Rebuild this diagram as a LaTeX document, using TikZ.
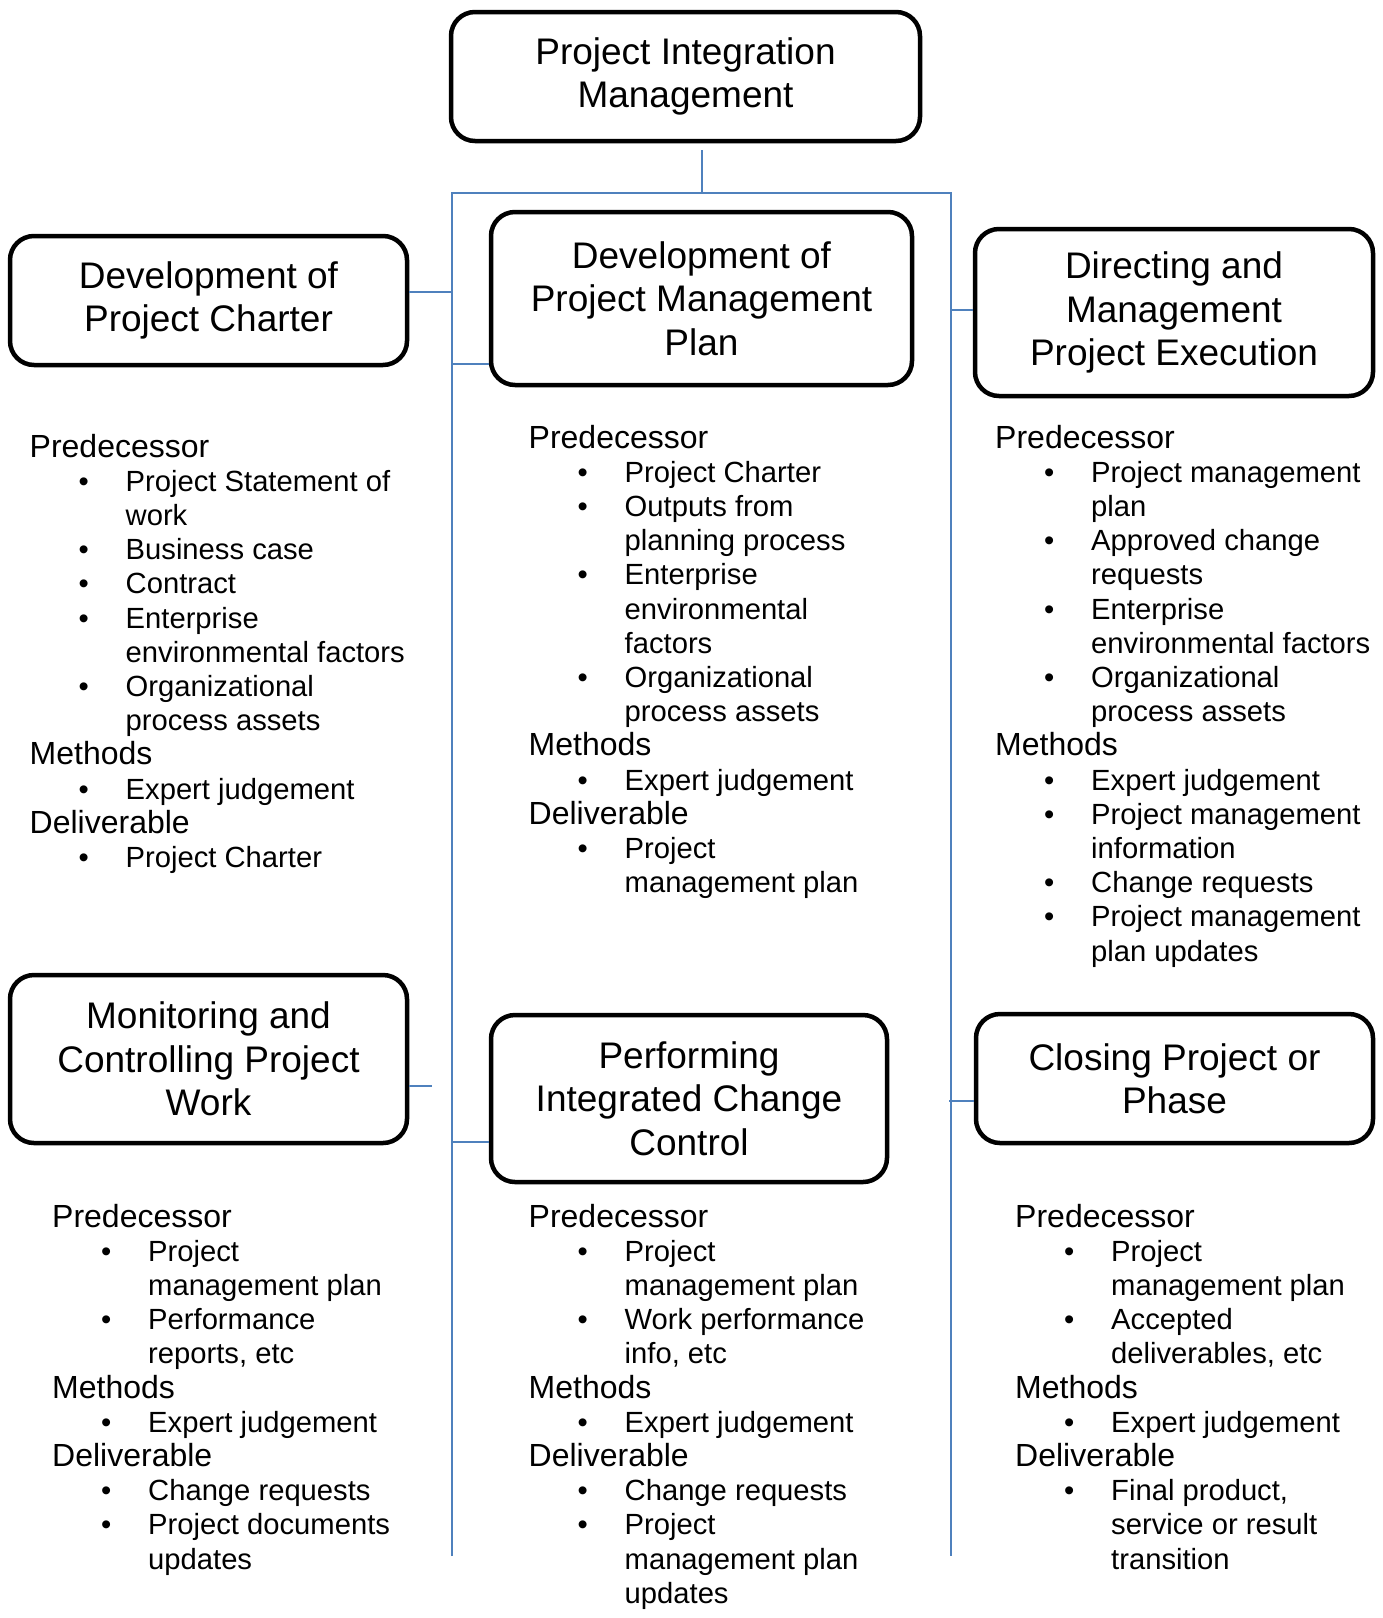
\documentclass[tikz,border=0pt]{standalone}
\usepackage{fontspec}
\setmainfont{Liberation Sans}
\usetikzlibrary{calc}
\definecolor{busblue}{RGB}{79,129,189}
\newcommand\titlefont{\fontsize{37}{43.3}\selectfont}
\newcommand\listfont{\fontsize{29.2}{34.2}\selectfont}
\newcommand\headfont{\fontsize{32}{34.2}\selectfont}
% #1 name prefix, #2 x of the headings, #3 first baseline, #4 lines as index/kind/text
% kind: h = heading, b = bulleted item, c = continuation of an item
\newcommand\listcol[4]{%
  \foreach \k/\kd/\tx in {#4}{%
    \pgfmathsetmacro\yy{#3+\k*34.2}%
    \if\kd h\relax
      \node[listtxt, font=\headfont] (#1-\k) at (#2,\yy) {\tx};
    \else
      \node[listtxt] (#1-\k) at (#2+96,\yy) {\tx};
      \if\kd b\relax
        \node[listtxt] (#1-\k-dot) at (#2+49,\yy) {\textbullet};
      \fi
    \fi
  }}

\begin{document}
\begin{tikzpicture}[x=1pt,y=-1pt,
  procbox/.style={draw=black, line width=4.5pt, rounded corners=24pt,
    align=center, font=\titlefont, inner sep=0pt},
  bus/.style={draw=busblue, line width=2pt},
  listtxt/.style={anchor=base west, inner sep=0pt, font=\listfont}]
\useasboundingbox[fill=white] (0,0) rectangle (1383,1618);

% process boxes
\node[procbox, minimum width=469pt, minimum height=129pt] (top) at (685.5,76.5)
  {Project Integration\\Management};
\node[procbox, minimum width=397pt, minimum height=129pt] (lc) at (208.5,300.5)
  {Development of\\Project Charter};
\node[procbox, minimum width=421pt, minimum height=173pt] (mp) at (701.5,298.5)
  {Development of\\Project Management\\Plan};
\node[procbox, minimum width=398pt, minimum height=167pt] (rd) at (1174,312.5)
  {Directing and\\Management\\Project Execution};
\node[procbox, minimum width=397pt, minimum height=168pt] (lm) at (208.5,1059)
  {Monitoring and\\Controlling Project\\Work};
\node[procbox, minimum width=396pt, minimum height=167pt] (mi) at (689,1098.5)
  {Performing\\Integrated Change\\Control};
\node[procbox, minimum width=397pt, minimum height=129pt] (rc) at (1174.5,1078.5)
  {Closing Project or\\Phase};

% connector bus
\coordinate (busLt) at (452,193);
\coordinate (busRt) at (951,193);
\coordinate (busLb) at (452,1556);
\coordinate (busRb) at (951,1556);
\coordinate (jTop) at (702,193);
\coordinate (topFoot) at ([yshift=-7pt]top.south);
\draw[bus] (busLb) -- (busLt) -- (busRt) -- (busRb);
\draw[bus] (topFoot -| jTop) -- (jTop);

% stubs from the bus to the boxes
\coordinate (jLc) at (452,292);
\coordinate (jLm) at (432,1086);
\coordinate (jMp) at (452,364);
\coordinate (jMi) at (452,1142);
\coordinate (jRd) at (951,310);
\coordinate (jRc) at (949,1101);
\draw[bus] (lc.east |- jLc) -- (jLc);
\draw[bus] (lm.east |- jLm) -- (jLm);
\draw[bus] (jMp) -- (mp.west |- jMp);
\draw[bus] (jMi) -- (mi.west |- jMi);
\draw[bus] (jRd) -- (rd.west |- jRd);
\draw[bus] (jRc) -- (rc.west |- jRc);

% inputs, methods and deliverables under each box
\listcol{lt}{29.5}{457}{0/h/Predecessor, 1/b/Project Statement of, 2/c/work,
  3/b/Business case, 4/b/Contract, 5/b/Enterprise, 6/c/environmental factors,
  7/b/Organizational, 8/c/process assets, 9/h/Methods, 10/b/Expert judgement,
  11/h/Deliverable, 12/b/Project Charter}
\listcol{mt}{528.5}{448}{0/h/Predecessor, 1/b/Project Charter, 2/b/Outputs from,
  3/c/planning process, 4/b/Enterprise, 5/c/environmental, 6/c/factors,
  7/b/Organizational, 8/c/process assets, 9/h/Methods, 10/b/Expert judgement,
  11/h/Deliverable, 12/b/Project, 13/c/management plan}
\listcol{rt}{995}{448}{0/h/Predecessor, 1/b/Project management, 2/c/plan,
  3/b/Approved change, 4/c/requests, 5/b/Enterprise, 6/c/environmental factors,
  7/b/Organizational, 8/c/process assets, 9/h/Methods, 10/b/Expert judgement,
  11/b/Project management, 12/c/information, 13/b/Change requests,
  14/b/Project management, 15/c/plan updates}
\listcol{lb}{52}{1227}{0/h/Predecessor, 1/b/Project, 2/c/management plan,
  3/b/Performance, 4/c/{reports, etc}, 5/h/Methods, 6/b/Expert judgement,
  7/h/Deliverable, 8/b/Change requests, 9/b/Project documents, 10/c/updates}
\listcol{mb}{528.5}{1227}{0/h/Predecessor, 1/b/Project, 2/c/management plan,
  3/b/Work performance, 4/c/{info, etc}, 5/h/Methods, 6/b/Expert judgement,
  7/h/Deliverable, 8/b/Change requests, 9/b/Project, 10/c/management plan,
  11/c/updates}
\listcol{rb}{1015}{1227}{0/h/Predecessor, 1/b/Project, 2/c/management plan,
  3/b/Accepted, 4/c/{deliverables, etc}, 5/h/Methods, 6/b/Expert judgement,
  7/h/Deliverable, 8/b/{Final product,}, 9/c/service or result, 10/c/transition}
\end{tikzpicture}
\end{document}
